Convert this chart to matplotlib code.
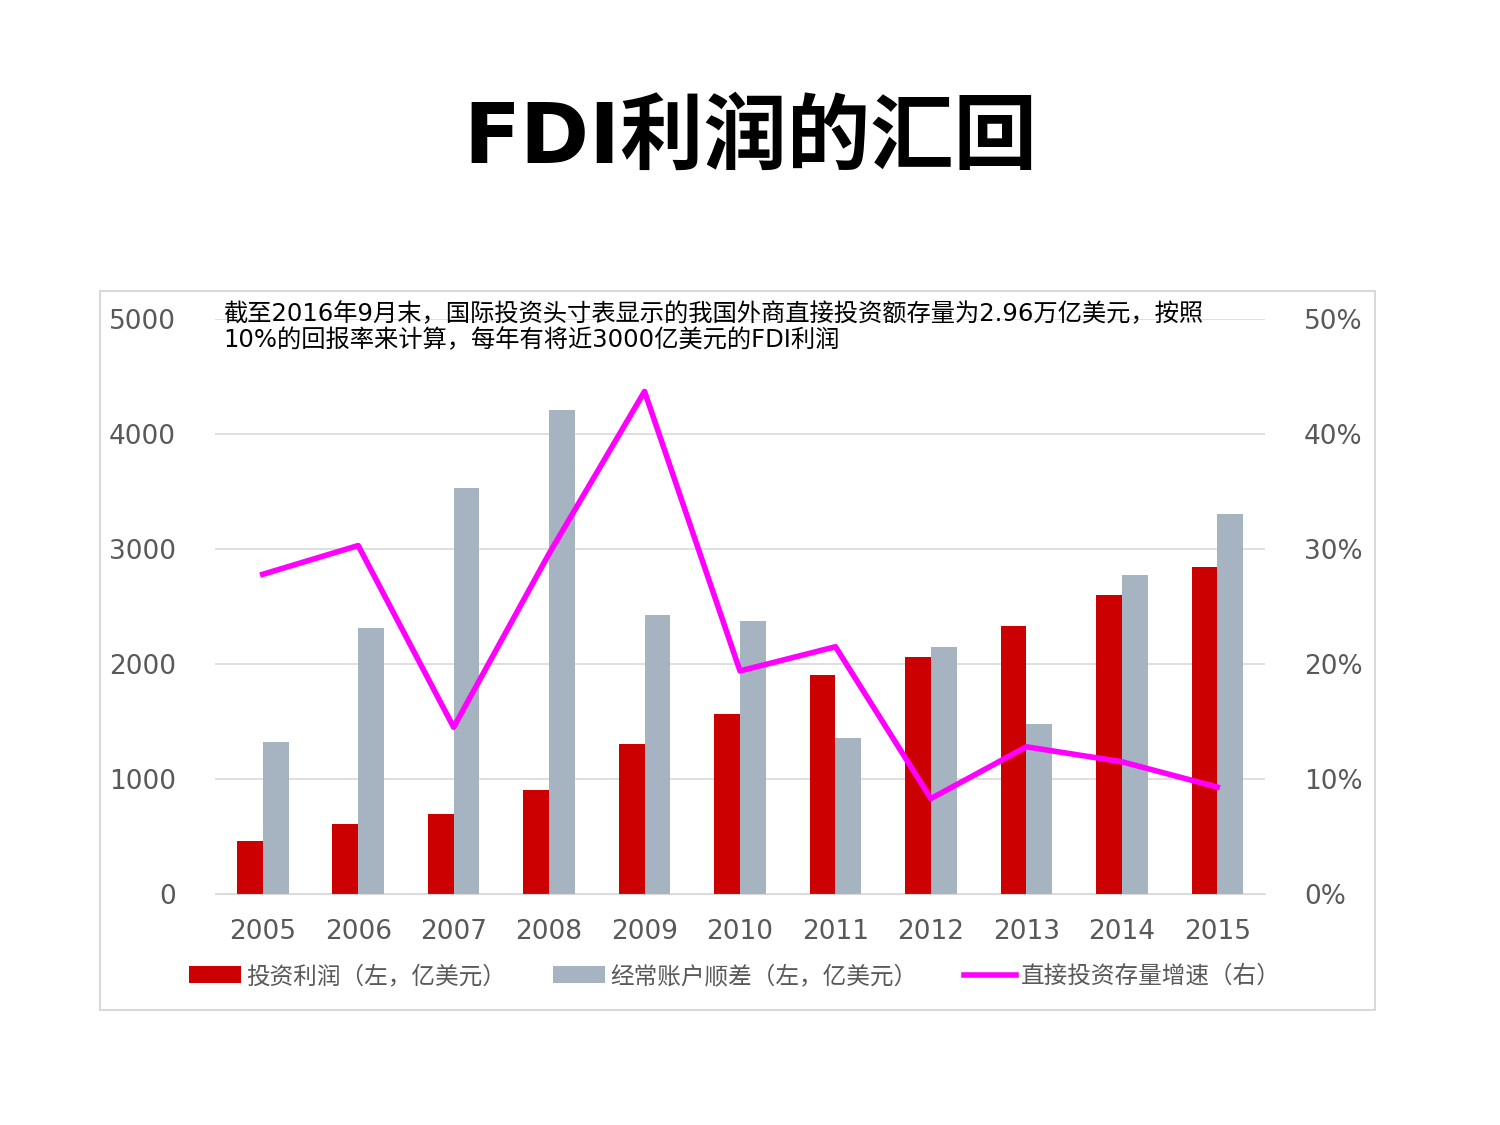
import matplotlib
matplotlib.use("Agg")
import matplotlib.pyplot as plt
import numpy as np
from matplotlib.patches import Rectangle

plt.rcParams['font.family'] = ['DejaVu Sans', 'Noto Sans CJK SC']

years = ["2005", "2006", "2007", "2008", "2009", "2010", "2011", "2012", "2013", "2014", "2015"]
profit = [460, 610, 700, 905, 1305, 1565, 1905, 2060, 2330, 2600, 2845]
current_account = [1320, 2315, 3530, 4210, 2425, 2375, 1355, 2150, 1480, 2775, 3305]
fdi_growth = [27.8, 30.3, 14.5, 29.6, 43.7, 19.4, 21.5, 8.3, 12.8, 11.5, 9.3]

fig = plt.figure(figsize=(15, 11.25), dpi=100)
fig.text(0.5, 0.876, "FDI利润的汇回", ha="center", va="center", fontsize=60,
         fontweight="bold", family=["DejaVu Sans", "Noto Sans CJK SC"])

# outer frame
fig.patches.append(Rectangle((100 / 1500, 1 - 1010 / 1125), 1275 / 1500, 719 / 1125,
                             transform=fig.transFigure, fill=False, edgecolor="#d9d9d9", lw=1.5))

ax = fig.add_axes([215 / 1500, 1 - 894 / 1125, 1050 / 1500, 575 / 1125])
x = np.arange(len(years))
w = 0.27
ax.bar(x - w / 2, profit, w, color="#cc0000", label="投资利润（左，亿美元）", zorder=2)
ax.bar(x + w / 2, current_account, w, color="#a6b4c2", label="经常账户顺差（左，亿美元）", zorder=2)
ax.set_ylim(0, 5000)
ax.set_xlim(-0.5, len(years) - 0.5)
ax.set_yticks([0, 1000, 2000, 3000, 4000, 5000])
ax.set_xticks(x)
ax.set_xticklabels(years)
ax.grid(axis="y", color="#d9d9d9", lw=1.2, zorder=0)
for s in ["top", "right", "left"]:
    ax.spines[s].set_visible(False)
ax.spines["bottom"].set_color("#d9d9d9")
ax.tick_params(length=0, labelsize=19, colors="#595959", pad=18)
ax.tick_params(axis="y", pad=28)

ax2 = ax.twinx()
ax2.plot(x, fdi_growth, color="#ff00ff", lw=4, label="直接投资存量增速（右）", zorder=3)
ax2.set_ylim(0, 50)
ax2.set_yticks([0, 10, 20, 30, 40, 50])
ax2.set_yticklabels([f"{v}%" for v in [0, 10, 20, 30, 40, 50]])
for s in ax2.spines.values():
    s.set_visible(False)
ax2.tick_params(length=0, labelsize=19, colors="#595959", pad=28)

ax.text(0.008, 1.03, "截至2016年9月末，国际投资头寸表显示的我国外商直接投资额存量为2.96万亿美元，按照\n10%的回报率来计算，每年有将近3000亿美元的FDI利润",
        transform=ax.transAxes, va="top", ha="left", fontsize=17.5, linespacing=1.15, zorder=5)

h1, l1 = ax.get_legend_handles_labels()
h2, l2 = ax2.get_legend_handles_labels()
fig.legend(h1 + h2, l1 + l2, loc="center", bbox_to_anchor=(0.49, 1 - 976 / 1125), ncol=3,
           frameon=False, fontsize=17, labelcolor="#595959", handlelength=2.2,
           handletextpad=0.2, columnspacing=2.0)

fig.savefig("out.png")
